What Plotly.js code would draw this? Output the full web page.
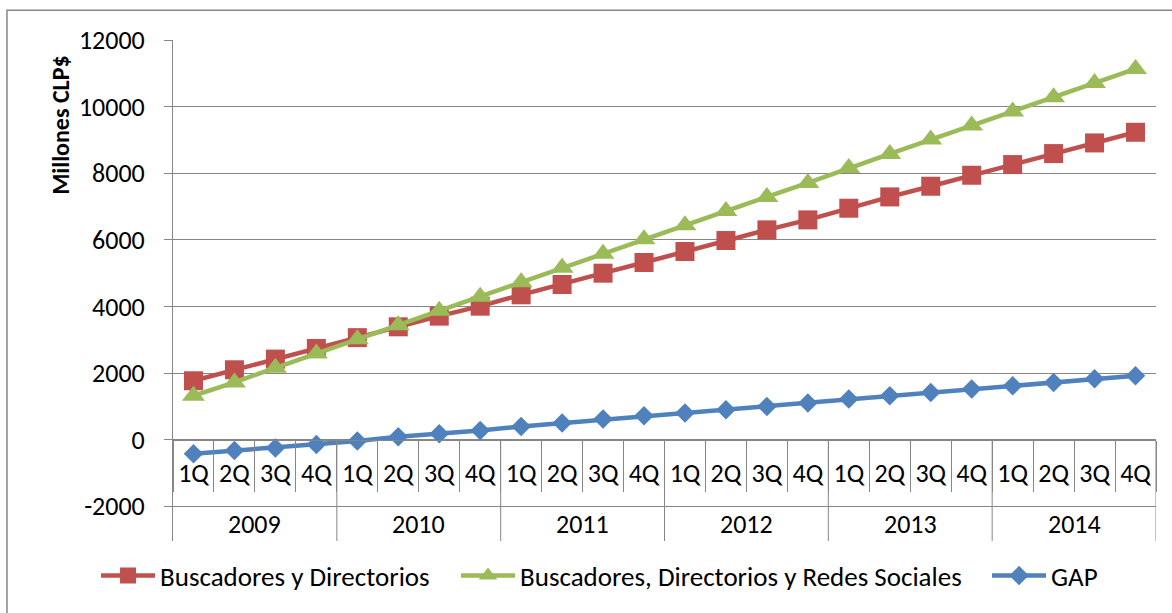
<!DOCTYPE html>
<html>
<head>
<meta charset="utf-8">
<script src="https://cdn.plot.ly/plotly-3.0.1.min.js"></script>
<style>
  html, body { margin: 0; padding: 0; background: #fff; }
  #chart { width: 1172px; height: 613px; }
</style>
</head>
<body>
<div id="chart"></div>
<script>
// ---- data ----
const years = ["2009", "2010", "2011", "2012", "2013", "2014"];
const quarters = ["1Q", "2Q", "3Q", "4Q"];
const seriesNames = ["Buscadores y Directorios", "Buscadores, Directorios y Redes Sociales", "GAP"];
const buscadoresDirectorios = [1770, 2100, 2420, 2740, 3065, 3390, 3710, 4010, 4350, 4660, 5000, 5320, 5650, 5980, 6300, 6600, 6950, 7290, 7610, 7940, 8260, 8590, 8910, 9230];
const buscadoresRedes = [1320, 1720, 2160, 2590, 3020, 3440, 3870, 4290, 4730, 5160, 5580, 6020, 6440, 6870, 7290, 7710, 8160, 8580, 9010, 9430, 9850, 10280, 10710, 11130];
const gap = [-420, -320, -250, -140, -40, 90, 180, 280, 400, 500, 620, 720, 800, 900, 1000, 1100, 1220, 1320, 1420, 1520, 1620, 1720, 1830, 1920];

// ---- build category keys ----
const cats = [];
const catText = [];
years.forEach(y => quarters.forEach(q => { cats.push(q + " " + y); catText.push(q); }));

const FONT = "Carlito, Calibri, Lato, 'Liberation Sans', sans-serif";
const FS = 26;
const GRID = "#868686";
const colors = ["#C0504D", "#9BBB59", "#4F81BD"];
const symbols = ["square", "triangle-up", "diamond"];
const sizes = [19, 20, 15];
const values = [buscadoresDirectorios, buscadoresRedes, gap];
const legendIds = ["legend", "legend2", "legend3"];

const yMin = -3040, yMax = 12000;

const traces = values.map((v, i) => ({
  type: "scatter",
  mode: "lines+markers",
  name: seriesNames[i],
  legend: legendIds[i],
  x: cats,
  y: v,
  line: { color: colors[i], width: 4.5 },
  marker: { color: colors[i], symbol: symbols[i], size: sizes[i], line: { width: 0 } }
}));

const shapes = [];
// year dividers in the category band
years.forEach((y, k) => {
  shapes.push({
    type: "line", xref: "x", yref: "y",
    x0: (k + 1) * quarters.length - 0.5, x1: (k + 1) * quarters.length - 0.5,
    y0: 0, y1: yMin,
    line: { color: GRID, width: 1 }
  });
});
// outer chart border
shapes.push({
  type: "rect", xref: "paper", yref: "paper",
  x0: -0.1689, x1: 1.05, y0: -0.3, y1: 1.0596,
  line: { color: GRID, width: 1.5 }, fillcolor: "rgba(0,0,0,0)", layer: "below"
});

const annotations = years.map((y, k) => ({
  xref: "x", yref: "y",
  x: k * quarters.length + (quarters.length - 1) / 2,
  y: -2530,
  text: y, showarrow: false,
  xanchor: "center", yanchor: "middle",
  font: { family: FONT, size: FS, color: "#000" }
}));
annotations.push({
  xref: "paper", yref: "paper",
  x: -0.114, y: 0.831,
  text: "<b>Millones CLP$</b>", showarrow: false, textangle: -90,
  xanchor: "center", yanchor: "middle",
  font: { family: FONT, size: 24, color: "#000" }
});

function legendAt(x) {
  return {
    orientation: "h", x: x, xanchor: "left", y: -0.07, yanchor: "middle",
    font: { family: FONT, size: 27, color: "#000" },
    itemwidth: 54, bgcolor: "rgba(0,0,0,0)", borderwidth: 0
  };
}

const layout = {
  width: 1172, height: 613,
  margin: { l: 173, r: 16, t: 40, b: 70 },
  paper_bgcolor: "#fff", plot_bgcolor: "#fff",
  font: { family: FONT, size: FS, color: "#000" },
  showlegend: true,
  legend: legendAt(-0.0783),
  legend2: legendAt(0.2879),
  legend3: legendAt(0.8281),
  xaxis: {
    type: "category",
    categoryorder: "array", categoryarray: cats,
    tickvals: cats, ticktext: catText,
    anchor: "free", position: (0 - yMin) / (yMax - yMin),
    showline: true, linecolor: GRID, linewidth: 1,
    showgrid: false, zeroline: false,
    ticks: "outside", tickson: "boundaries", ticklen: 51, tickcolor: GRID, tickwidth: 1,
    ticklabelstandoff: 10,
    tickfont: { family: FONT, size: FS, color: "#000" },
    range: [-0.5, cats.length - 0.5],
    fixedrange: true
  },
  yaxis: {
    range: [yMin, yMax],
    tickmode: "array",
    tickvals: [-2000, 0, 2000, 4000, 6000, 8000, 10000, 12000],
    ticktext: ["-2000", "0", "2000", "4000", "6000", "8000", "10000", "12000"],
    showline: true, linecolor: GRID, linewidth: 1,
    showgrid: true, gridcolor: GRID, gridwidth: 1,
    zeroline: false,
    ticks: "outside", ticklen: 8, tickcolor: GRID, tickwidth: 1,
    ticklabelstandoff: 14,
    tickfont: { family: FONT, size: FS, color: "#000" },
    fixedrange: true
  },
  shapes: shapes,
  annotations: annotations
};

Plotly.newPlot("chart", traces, layout, { displayModeBar: false, staticPlot: true });
</script>
</body>
</html>
